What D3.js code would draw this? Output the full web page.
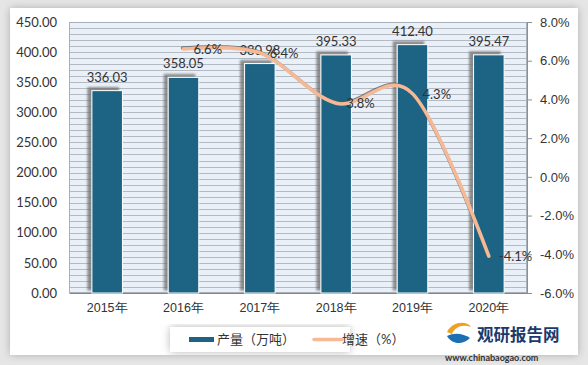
<!DOCTYPE html>
<html><head><meta charset="utf-8">
<script src="https://cdn.jsdelivr.net/npm/d3@7"></script>
<style>
html,body{margin:0;padding:0;background:#e4e4e4;}
svg{display:block;font-family:Lato,"Noto Sans CJK SC",sans-serif;}
</style></head>
<body>
<svg id="c" width="588" height="365"></svg>
<script>
const categories = ["2015年","2016年","2017年","2018年","2019年","2020年"];
const production = [336.03, 358.05, 380.98, 395.33, 412.40, 395.47];
const growth = [null, 6.6, 6.4, 3.8, 4.3, -4.1];
const leftTicks = [0,50,100,150,200,250,300,350,400,450];
const rightTicks = [-6,-4,-2,0,2,4,6,8];
const seriesNames = ["产量（万吨）","增速（%）"];

const svg = d3.select("#c");
const W = 588, H = 365;
const m = {l:69, r:527, t:22, b:293};

const defs = svg.append("defs");
const fs = defs.append("filter").attr("id","barSh").attr("x","-50%").attr("y","-50%").attr("width","200%").attr("height","200%");
fs.append("feDropShadow").attr("dx",-4).attr("dy",-3).attr("stdDeviation",1.2).attr("flood-color","#6b6b6b").attr("flood-opacity",0.75);
const fc = defs.append("filter").attr("id","cardSh").attr("x","-10%").attr("y","-10%").attr("width","120%").attr("height","120%");
fc.append("feDropShadow").attr("dx",0).attr("dy",0).attr("stdDeviation",4).attr("flood-color","#888").attr("flood-opacity",0.6);
const fl = defs.append("filter").attr("id","lineSh").attr("x","-10%").attr("y","-10%").attr("width","120%").attr("height","120%");
fl.append("feDropShadow").attr("dx",-1).attr("dy",-1).attr("stdDeviation",0.6).attr("flood-color","#5a5a5a").attr("flood-opacity",0.7);

svg.append("rect").attr("width",W).attr("height",H).attr("fill","#e6e6e6");
svg.append("rect").attr("x",10).attr("y",8).attr("width",568).attr("height",347).attr("fill","#fff").attr("filter","url(#cardSh)");

const x = d3.scaleBand().domain(categories).range([m.l,m.r]).paddingInner(0.6).paddingOuter(0.3);
const xc = d3.scaleBand().domain(categories).range([m.l,m.r]);
const y = d3.scaleLinear().domain([0,450]).range([m.b,m.t]);
const y2 = d3.scaleLinear().domain([-6,8]).range([m.b,m.t]);

// plot background
svg.append("rect").attr("x",m.l).attr("y",m.t).attr("width",m.r-m.l).attr("height",m.b-m.t).attr("fill","#eaf0f7");
const minor = d3.range(10,451,10);
svg.append("g").selectAll("line").data(minor).join("line")
  .attr("x1",m.l).attr("x2",m.r).attr("y1",d=>Math.round(y(d))+0.5).attr("y2",d=>Math.round(y(d))+0.5)
  .attr("stroke","#b3bac4").attr("stroke-width",1);
svg.append("rect").attr("x",m.l+0.5).attr("y",m.t+0.5).attr("width",m.r-m.l-1).attr("height",m.b-m.t-1).attr("fill","none").attr("stroke","#a8b0ba");

// left axis
const gl = svg.append("g").attr("transform",`translate(${m.l},0)`)
  .call(d3.axisLeft(y).tickValues(leftTicks).tickFormat(d3.format(".2f")).tickSize(0).tickPadding(12));
gl.select(".domain").remove();
gl.selectAll("text").attr("font-size",13).attr("fill","#333").attr("font-family","Lato,sans-serif");

// right axis
const gr = svg.append("g").attr("transform",`translate(${m.r},0)`)
  .call(d3.axisRight(y2).tickValues(rightTicks).tickFormat(d=>d.toFixed(1)+"%").tickSize(5).tickPadding(8));
gr.select(".domain").attr("stroke","#8a9099");
gr.selectAll(".tick line").attr("stroke","#8a9099");
gr.selectAll("text").attr("font-size",13).attr("fill","#333").attr("text-anchor","start").attr("x",13);

// bottom axis
const gb = svg.append("g").attr("transform",`translate(0,${m.b})`)
  .call(d3.axisBottom(xc).tickSize(0).tickPadding(10));
gb.select(".domain").attr("stroke","#7f868f");
gb.selectAll("text").attr("font-size",12.5).attr("fill","#333");

// bars
svg.append("g").selectAll("rect").data(production).join("rect")
  .attr("x",(d,i)=>x(categories[i])).attr("width",x.bandwidth())
  .attr("y",d=>y(d)).attr("height",d=>m.b-y(d))
  .attr("fill","#1c6384").attr("stroke","#fff").attr("stroke-width",1)
  .attr("filter","url(#barSh)");

svg.append("g").selectAll("text").data(production).join("text")
  .attr("x",(d,i)=>x(categories[i])+x.bandwidth()/2).attr("y",d=>y(d)-9)
  .attr("text-anchor","middle").attr("font-size",13).attr("fill","#333")
  .text(d=>d.toFixed(2));

// growth line
const pts = growth.map((v,i)=>({v,c:categories[i]})).filter(d=>d.v!==null);
const line = d3.line().x(d=>xc(d.c)+xc.bandwidth()/2).y(d=>y2(d.v)).curve(d3.curveCatmullRom.alpha(0));
svg.append("path").datum(pts).attr("d",line).attr("fill","none")
  .attr("stroke","#f5b995").attr("stroke-width",3.5).attr("stroke-linecap","round").attr("filter","url(#lineSh)");

svg.append("g").selectAll("text").data(pts).join("text")
  .attr("x",d=>xc(d.c)+xc.bandwidth()/2+10).attr("y",d=>y2(d.v)+5)
  .attr("font-size",13).attr("fill","#333").text(d=>d.v.toFixed(1)+"%");

// legend
const lg = svg.append("g");
lg.append("rect").attr("x",170).attr("y",327).attr("width",180).attr("height",25).attr("fill","#fff").attr("filter","url(#cardSh)");
lg.append("rect").attr("x",189).attr("y",337).attr("width",25).attr("height",5).attr("fill","#1c6384");
lg.append("text").attr("x",217).attr("y",344).attr("font-size",13).attr("fill","#333").text(seriesNames[0]);
lg.append("line").attr("x1",314).attr("x2",342).attr("y1",339.5).attr("y2",339.5).attr("stroke","#f5b995").attr("stroke-width",3.5).attr("stroke-linecap","round");
lg.append("text").attr("x",342).attr("y",344).attr("font-size",13).attr("fill","#333").text(seriesNames[1]);

// watermark
const wm = svg.append("g");
wm.append("path").attr("d","M447,332 C452,322 466,320 471,327 C462,324 455,327 452,334 Z").attr("fill","#f0a020");
wm.append("path").attr("d","M447,336 C455,332 464,334 470,338 C463,345 452,345 447,336 Z").attr("fill","#1b6fb3");
wm.append("text").attr("x",477).attr("y",341).attr("font-size",16.5).attr("font-weight","bold")
  .attr("font-family","'Noto Sans CJK SC',sans-serif").attr("fill","#1b3a6b").text("观研报告网");
wm.append("text").attr("x",445).attr("y",361).attr("font-size",9).attr("font-weight","bold")
  .attr("fill","#333").text("www.chinabaogao.com");
</script>
</body></html>
